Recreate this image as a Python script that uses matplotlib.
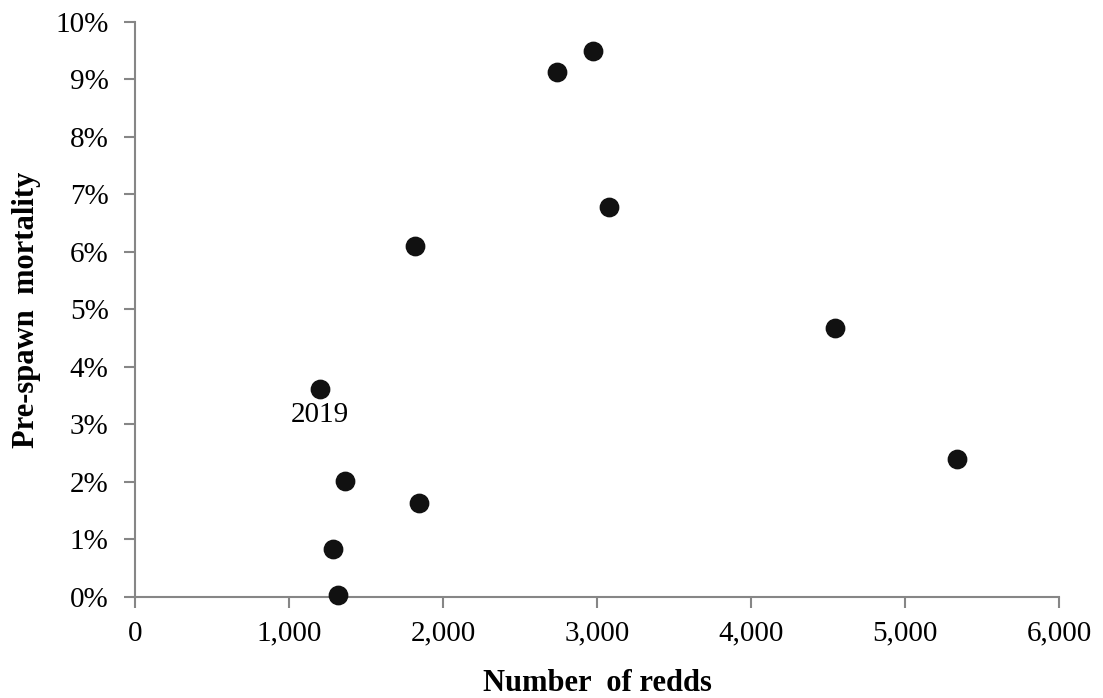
import matplotlib.pyplot as plt
from matplotlib.ticker import FuncFormatter

# 读取自图片的数据
redds = [2740, 2974, 3078, 1818, 4545, 1201, 5338, 1364, 1844, 1286, 1320]
mortality = [9.13, 9.50, 6.79, 6.10, 4.67, 3.62, 2.40, 2.02, 1.63, 0.83, 0.03]
label_idx = 5
label_text = "2019"

plt.rcParams['font.family'] = ['Liberation Serif', 'DejaVu Serif']

fig = plt.figure(figsize=(11.03, 6.98), dpi=100)
ax = fig.add_axes([0.1224, 0.1447, 0.8377, 0.8238])

ax.scatter(redds, mortality, s=175, color='#111111', zorder=3, clip_on=False)
ax.annotate(label_text, (redds[label_idx], mortality[label_idx]),
            xytext=(0, -19), textcoords='offset points',
            ha='center', va='center', fontsize=21)

ax.set_xlim(0, 6000)
ax.set_ylim(0, 10)
ax.set_xticks(range(0, 6001, 1000))
ax.set_yticks(range(0, 11))
ax.xaxis.set_major_formatter(FuncFormatter(lambda v, p: f"{int(v):,}"))
ax.yaxis.set_major_formatter(FuncFormatter(lambda v, p: f"{int(v)}%"))

for s in ['top', 'right']:
    ax.spines[s].set_visible(False)
for s in ['left', 'bottom']:
    ax.spines[s].set_color('#868686')
    ax.spines[s].set_linewidth(1.5)
ax.tick_params(direction='out', length=8, width=1.5, color='#868686',
               labelsize=21)
ax.tick_params(axis='y', pad=11)
ax.tick_params(axis='x', pad=9)

ax.set_xlabel("Number  of redds", fontsize=22, fontweight='bold', labelpad=16)
ax.set_ylabel("Pre-spawn  mortality", fontsize=22, fontweight='bold', labelpad=10)

fig.savefig("out.png", dpi=100)
